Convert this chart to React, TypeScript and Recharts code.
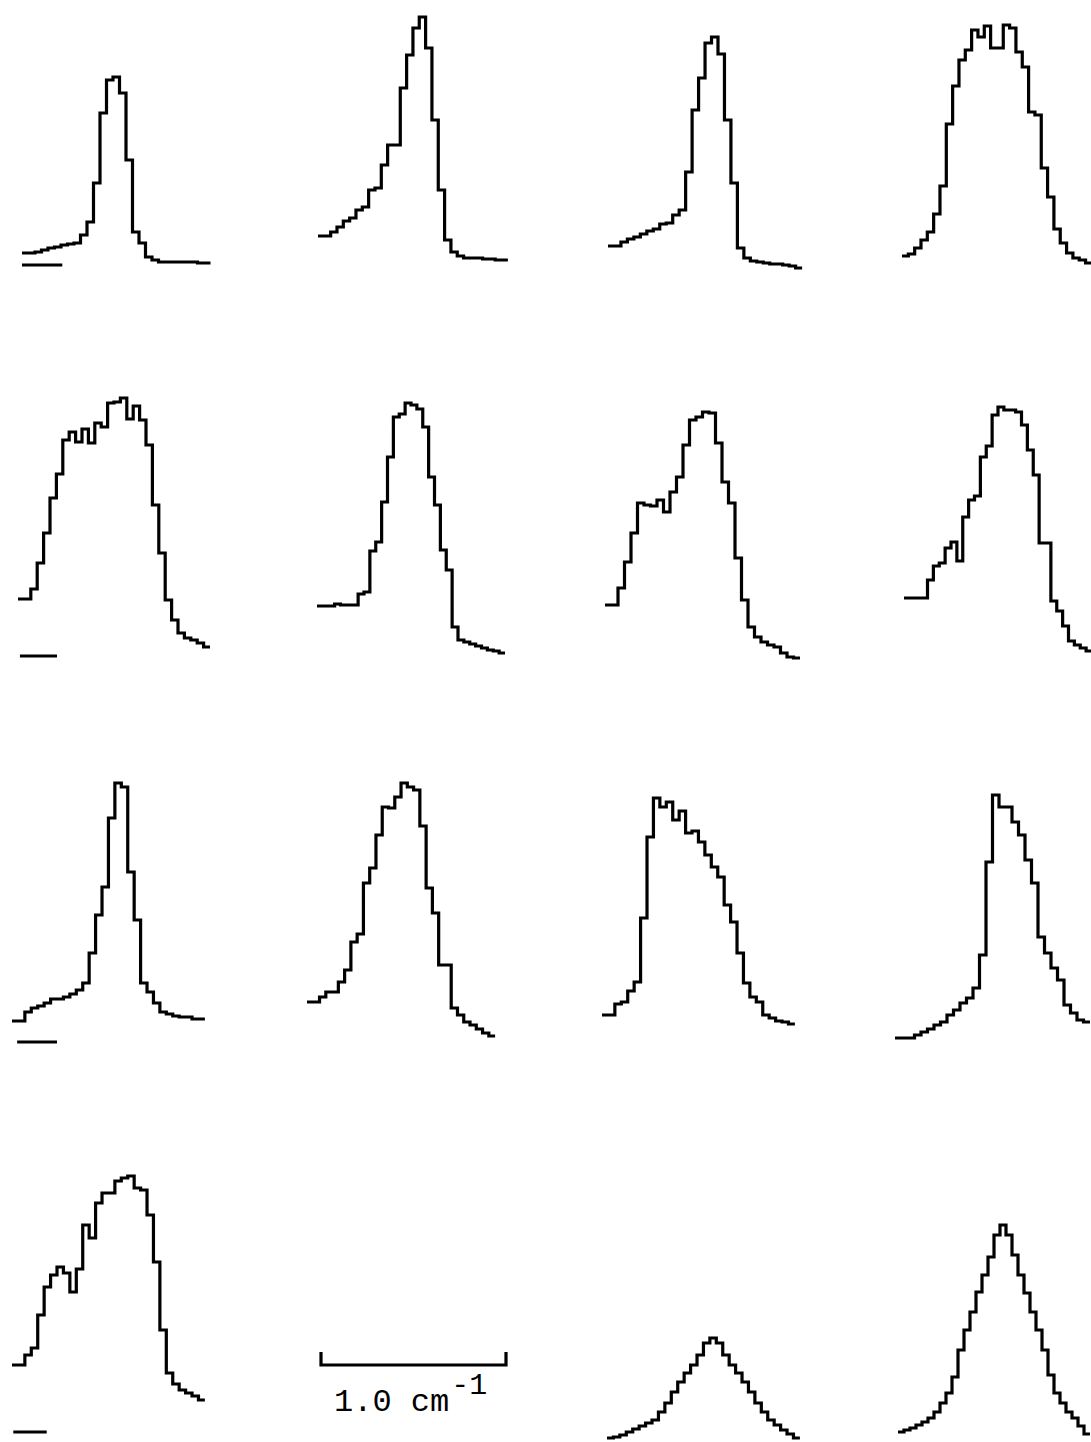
import { LineChart, Line, XAxis, YAxis, ReferenceLine } from "recharts";

// intensity per channel, one array per trace (arbitrary units, 0 = row baseline)
const r1c1 = [27, 27, 28, 30, 32, 33, 35, 36, 37, 45, 58, 97, 167, 200, 203, 187, 120, 48, 37, 23, 20, 18, 18, 18, 18, 18, 18, 17, 17];
const r1c2 = [44, 44, 48, 53, 59, 62, 70, 73, 90, 92, 115, 135, 135, 192, 225, 252, 263, 232, 160, 90, 40, 28, 24, 22, 22, 22, 21, 21, 20, 20];
const r1c3 = [34, 34, 38, 41, 43, 46, 49, 51, 56, 57, 65, 70, 108, 170, 202, 237, 243, 226, 160, 97, 32, 22, 19, 18, 17, 16, 16, 15, 14, 12];
const r1c4 = [24, 26, 32, 40, 48, 66, 94, 156, 194, 220, 230, 250, 243, 254, 232, 232, 255, 252, 228, 213, 168, 165, 112, 83, 51, 37, 27, 22, 20, 17];

const r2c1 = [71, 71, 81, 107, 137, 172, 196, 230, 238, 228, 241, 227, 247, 243, 267, 268, 272, 251, 264, 250, 225, 165, 117, 70, 50, 37, 32, 30, 27, 23];
const r2c2 = [64, 64, 64, 66, 65, 65, 65, 76, 78, 119, 128, 168, 213, 253, 256, 267, 265, 261, 243, 193, 165, 120, 100, 43, 30, 28, 26, 24, 22, 20, 19, 17];
const r2c3 = [65, 65, 82, 108, 137, 167, 165, 164, 170, 158, 178, 193, 225, 250, 253, 258, 257, 227, 188, 167, 112, 70, 43, 33, 28, 25, 23, 17, 13, 12];
const r2c4 = [72, 72, 72, 72, 90, 104, 107, 122, 128, 109, 153, 170, 174, 213, 224, 255, 263, 260, 260, 258, 245, 220, 195, 127, 127, 69, 59, 44, 29, 25, 22, 19];

const r3c1 = [59, 59, 68, 72, 74, 77, 81, 81, 83, 86, 90, 97, 127, 165, 193, 262, 297, 293, 208, 160, 97, 88, 77, 68, 66, 64, 63, 63, 61, 61];
const r3c2 = [78, 78, 83, 88, 88, 98, 110, 138, 146, 197, 212, 245, 273, 272, 283, 297, 293, 290, 254, 192, 167, 115, 115, 72, 65, 58, 55, 51, 47, 44];
const r3c3 = [65, 65, 76, 78, 89, 98, 162, 243, 282, 273, 278, 260, 269, 247, 249, 238, 225, 213, 203, 175, 158, 127, 97, 83, 78, 65, 62, 59, 58, 56];
const r3c4 = [42, 42, 42, 45, 48, 51, 55, 58, 65, 70, 77, 82, 92, 125, 218, 285, 273, 273, 258, 245, 220, 197, 143, 127, 112, 100, 75, 67, 60, 58];

const r4c1 = [75, 75, 85, 92, 125, 153, 165, 173, 167, 148, 171, 215, 202, 237, 247, 247, 259, 262, 264, 252, 250, 225, 178, 110, 67, 56, 50, 47, 44, 40];
const r4c3 = [2, 3, 5, 8, 11, 14, 17, 20, 28, 37, 48, 58, 67, 75, 85, 97, 102, 97, 85, 75, 67, 58, 48, 37, 28, 20, 15, 10, 6, 2];
const r4c4 = [8, 10, 12, 15, 18, 22, 28, 37, 47, 63, 90, 110, 128, 148, 165, 183, 205, 215, 205, 185, 165, 147, 128, 110, 90, 65, 47, 37, 28, 22, 14, 6];

// zero-level markers under the first column: [from channel, to channel, level]
const zeroMarks: Record<string, number[]> = {
  r1c1: [0, 6.2, 15],
  r2c1: [0.3, 6.1, 14],
  r3c1: [0.8, 7.0, 38],
  r4c1: [0.2, 5.4, 8],
};

// scale bar: 1.0 cm^-1
const scaleX = [0, 0, 1, 1];
const scaleY = [1, 0, 0, 1];

const SPAN = 300;
const PAD = 6;
const INK = "#000";
const rowBottom = [280, 670, 1080, 1440];

const panels = [
  { id: "r1c1", values: r1c1, row: 0, left: 22, bin: 6.5 },
  { id: "r1c2", values: r1c2, row: 0, left: 318, bin: 6.33 },
  { id: "r1c3", values: r1c3, row: 0, left: 608, bin: 6.47 },
  { id: "r1c4", values: r1c4, row: 0, left: 902, bin: 6.33 },
  { id: "r2c1", values: r2c1, row: 1, left: 18, bin: 6.4 },
  { id: "r2c2", values: r2c2, row: 1, left: 317, bin: 5.875 },
  { id: "r2c3", values: r2c3, row: 1, left: 605, bin: 6.5 },
  { id: "r2c4", values: r2c4, row: 1, left: 904, bin: 5.875 },
  { id: "r3c1", values: r3c1, row: 2, left: 12, bin: 6.43 },
  { id: "r3c2", values: r3c2, row: 2, left: 307, bin: 6.27 },
  { id: "r3c3", values: r3c3, row: 2, left: 602, bin: 6.43 },
  { id: "r3c4", values: r3c4, row: 2, left: 895, bin: 6.5 },
  { id: "r4c1", values: r4c1, row: 3, left: 12, bin: 6.43 },
  { id: "r4c3", values: r4c3, row: 3, left: 607, bin: 6.43 },
  { id: "r4c4", values: r4c4, row: 3, left: 898, bin: 6.0 },
];

function Trace({ id, values, row, left, bin }: { id: string; values: number[]; row: number; left: number; bin: number }) {
  const n = values.length;
  const data = values.map((v, i) => ({ x: i, y: v }));
  data.push({ x: n, y: values[n - 1] });
  const mark = zeroMarks[id];
  return (
    <div style={{ position: "absolute", left: left - PAD, top: rowBottom[row] - SPAN - PAD }}>
      <LineChart
        width={n * bin + 2 * PAD}
        height={SPAN + 2 * PAD}
        data={data}
        margin={{ top: PAD, right: PAD, bottom: PAD, left: PAD }}
      >
        <XAxis type="number" dataKey="x" domain={[0, n]} hide />
        <YAxis type="number" domain={[0, SPAN]} hide />
        {mark && (
          <ReferenceLine
            segment={[
              { x: mark[0], y: mark[2] },
              { x: mark[1], y: mark[2] },
            ]}
            stroke={INK}
            strokeWidth={3.2}
          />
        )}
        <Line
          type="stepAfter"
          dataKey="y"
          stroke={INK}
          strokeWidth={3.2}
          dot={false}
          isAnimationActive={false}
        />
      </LineChart>
    </div>
  );
}

function ScaleBar() {
  const data = scaleX.map((x, i) => ({ x, y: scaleY[i] }));
  return (
    <div style={{ position: "absolute", left: 321 - PAD, top: 1352 - PAD }}>
      <LineChart width={185 + 2 * PAD} height={13 + 2 * PAD} data={data} margin={{ top: PAD, right: PAD, bottom: PAD, left: PAD }}>
        <XAxis type="number" dataKey="x" domain={[0, 1]} hide />
        <YAxis type="number" domain={[0, 1]} hide />
        <Line type="linear" dataKey="y" stroke={INK} strokeWidth={3.2} dot={false} isAnimationActive={false} />
      </LineChart>
    </div>
  );
}

export default function App() {
  return (
    <div
      style={{
        position: "absolute",
        left: 0,
        top: 0,
        width: 1091,
        height: 1442,
        overflow: "hidden",
        background: "#fff",
      }}
    >
      {panels.map((p) => (
        <Trace key={p.id} {...p} />
      ))}
      <ScaleBar />
      <div
        style={{
          position: "absolute",
          left: 334,
          top: 1387,
          fontFamily: "'Liberation Mono', 'DejaVu Sans Mono', monospace",
          fontSize: 32,
          lineHeight: "32px",
          color: INK,
          whiteSpace: "pre",
        }}
      >
        1.0 cm
        <span style={{ position: "relative", top: -17, fontSize: 30, marginLeft: 2 }}>-1</span>
      </div>
    </div>
  );
}
